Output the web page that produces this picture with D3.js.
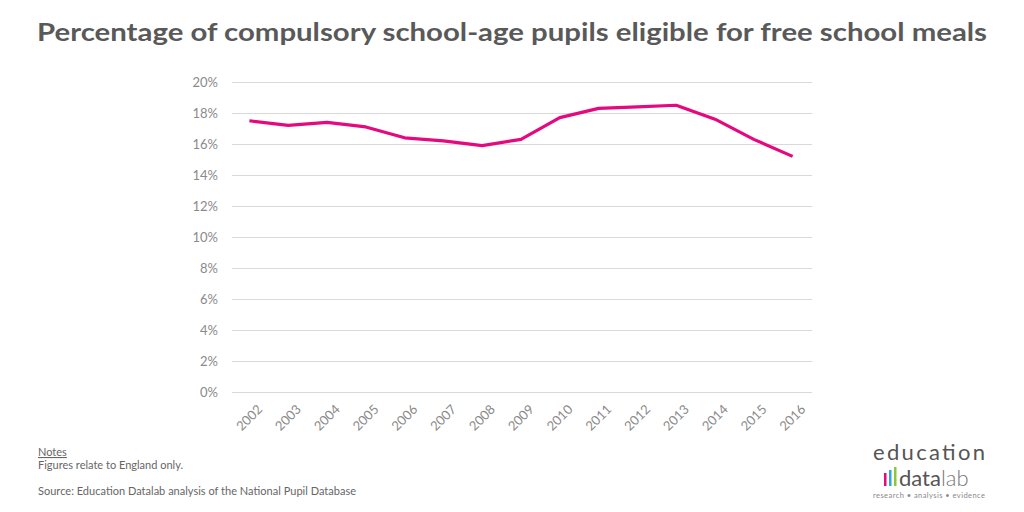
<!DOCTYPE html>
<html><head><meta charset="utf-8">
<script src="https://cdn.jsdelivr.net/npm/d3@7"></script>
<style>body{margin:0;background:#fff}svg{display:block}</style>
</head><body>
<svg id="c" width="1024" height="512"></svg>
<script>
const years = ["2002","2003","2004","2005","2006","2007","2008","2009","2010","2011","2012","2013","2014","2015","2016"];
const fsmPct = [17.5,17.2,17.4,17.1,16.4,16.2,15.9,16.3,17.7,18.3,18.4,18.5,17.6,16.3,15.2];
const yTicks = [0,2,4,6,8,10,12,14,16,18,20];

const svg = d3.select("#c");
const font = "Lato, 'Open Sans', sans-serif";
const x = d3.scalePoint().domain(years).range([230, 812]).padding(0.5);
const y = d3.scaleLinear().domain([0, 20]).range([392, 82]);

svg.append("text").attr("x", 512).attr("y", 41).attr("text-anchor", "middle")
  .attr("font-family", font).attr("font-weight", "bold").attr("font-size", 25)
  .attr("fill", "#595959").attr("textLength", 950).attr("lengthAdjust", "spacingAndGlyphs")
  .text("Percentage of compulsory school-age pupils eligible for free school meals");

const yAxis = svg.append("g").attr("transform", "translate(232,0)")
  .call(d3.axisLeft(y).tickValues(yTicks).tickFormat(d => d + "%").tickSize(-580).tickPadding(14));
yAxis.select(".domain").remove();
yAxis.selectAll("line").attr("stroke", "#d9d9d9");
yAxis.selectAll("text").attr("font-family", font).attr("font-size", 13).attr("fill", "#8a8a8a");

const xAxis = svg.append("g").attr("transform", "translate(0,392)")
  .call(d3.axisBottom(x).tickSize(0).tickPadding(0));
xAxis.select(".domain").remove();
xAxis.selectAll("text").attr("font-family", font).attr("font-size", 13).attr("fill", "#8a8a8a")
  .attr("text-anchor", "end").attr("y", 0).attr("x", 0).attr("dy", "0.35em")
  .attr("transform", "translate(10,15) rotate(-45)");

svg.append("path").datum(fsmPct)
  .attr("fill", "none").attr("stroke", "#e5087e").attr("stroke-width", 3.2)
  .attr("stroke-linejoin", "round")
  .attr("d", d3.line().x((d, i) => x(years[i])).y(d => y(d)));

const notes = svg.append("g").attr("font-family", font).attr("font-size", 11).attr("fill", "#666");
notes.append("text").attr("x", 38).attr("y", 456).attr("text-decoration", "underline").text("Notes");
notes.append("text").attr("x", 38).attr("y", 469).text("Figures relate to England only.");
notes.append("text").attr("x", 38).attr("y", 495).attr("textLength", 318).text("Source: Education Datalab analysis of the National Pupil Database");

const logo = svg.append("g").attr("font-family", font);
logo.append("text").attr("x", 929).attr("y", 460).attr("text-anchor", "middle")
  .attr("font-size", 22).attr("fill", "#555").attr("textLength", 112).text("education");
const barCols = ["#e5087e", "#29a9e0", "#8cc63f"];
const barH = [13, 16, 19];
barCols.forEach((c, i) => {
  logo.append("rect").attr("x", 884 + i * 5).attr("y", 486 - barH[i]).attr("width", 2.5).attr("height", barH[i]).attr("fill", c);
});
const dl = logo.append("text").attr("x", 899).attr("y", 486).attr("font-size", 22);
dl.append("tspan").attr("fill", "#555").text("data");
dl.append("tspan").attr("fill", "#777").attr("font-weight", 300).text("lab");
logo.append("text").attr("x", 929).attr("y", 498).attr("text-anchor", "middle")
  .attr("font-size", 7.5).attr("fill", "#888").attr("textLength", 112)
  .text("research • analysis • evidence");
</script>
</body></html>
